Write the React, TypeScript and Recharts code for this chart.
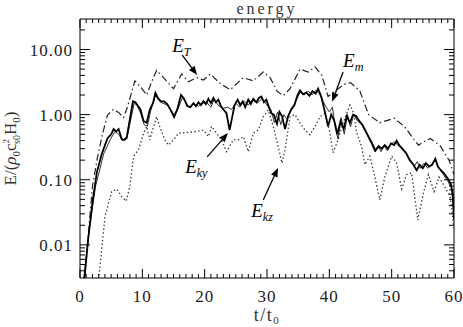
import React from 'react';
import { LineChart, Line, XAxis, YAxis, ReferenceLine, Label } from 'recharts';

// ---- data ----
const tT = [0.6, 1.2, 2.0, 2.8, 3.6, 4.4, 5.3, 6.2, 7.0, 7.6, 8.8, 9.8, 10.7, 11.5, 12.3, 13.5, 15.0, 16.3, 17.4, 18.7, 19.8, 20.9, 22.5, 24.1, 25.0, 26.2, 27.8, 29.4, 30.5, 31.6, 32.6, 33.7, 35.3, 36.6, 37.7, 38.8, 39.8, 41.2, 42.3, 43.4, 44.9, 46.3, 48.1, 50.4, 52.1, 53.3, 54.3, 55.1, 56.2, 57.8, 59.2, 60.0];
const eT = [0.002, 0.01, 0.08, 0.22, 0.5, 0.98, 1.2, 1.08, 0.9, 1.3, 3.3, 2.6, 2.0, 3.2, 4.8, 3.6, 2.5, 4.2, 3.2, 3.7, 3.4, 4.2, 3.0, 2.4, 2.9, 3.7, 3.3, 4.5, 3.7, 2.3, 1.95, 2.5, 5.0, 4.5, 5.4, 4.0, 1.9, 2.4, 2.9, 3.1, 2.3, 1.0, 0.75, 0.88, 0.65, 0.45, 0.34, 0.38, 0.43, 0.33, 0.2, 0.12];

const tKy = [0.3, 0.7, 1.3, 2.0, 2.7, 3.5, 4.4, 5.0, 5.4, 5.8, 6.2, 6.7, 7.1, 7.5, 8.0, 8.5, 8.9, 9.3, 9.7, 10.2, 10.7, 11.2, 11.7, 12.1, 12.5, 13.0, 13.5, 14.0, 14.5, 15.1, 15.6, 16.2, 16.7, 17.2, 17.7, 18.2, 18.6, 19.0, 19.4, 19.8, 20.2, 20.6, 21.0, 21.4, 21.8, 22.2, 22.6, 23.0, 23.5, 24.0, 24.4, 24.8, 25.3, 25.7, 26.1, 26.5, 27.0, 27.4, 27.8, 28.3, 28.7, 29.1, 29.5, 29.9, 30.3, 30.7, 31.1, 31.6, 32.0, 32.4, 32.9, 33.4, 33.9, 34.4, 34.9, 35.3, 35.8, 36.3, 36.8, 37.3, 37.8, 38.2, 38.7, 39.2, 39.8, 40.3, 40.8, 41.3, 41.8, 42.3, 42.8, 43.3, 43.8, 44.3, 44.8, 45.3, 46.0, 46.8, 47.4, 47.9, 48.4, 48.9, 49.4, 49.9, 50.4, 50.8, 51.2, 51.7, 52.3, 52.9, 53.5, 54.0, 54.5, 55.0, 55.5, 56.0, 56.5, 57.0, 57.4, 57.9, 58.4, 59.0, 59.5, 59.8, 60.0];
const eKy = [0.0015, 0.003, 0.012, 0.045, 0.13, 0.25, 0.43, 0.5, 0.6, 0.55, 0.6, 0.42, 0.41, 0.45, 0.85, 1.6, 1.55, 1.35, 1.2, 0.8, 0.75, 1.2, 1.5, 2.15, 1.8, 1.6, 1.6, 1.45, 1.2, 0.92, 1.2, 2.0, 1.75, 1.35, 1.3, 1.5, 1.35, 1.55, 1.4, 1.6, 1.45, 1.75, 1.5, 1.8, 1.55, 1.7, 1.35, 1.2, 1.05, 0.58, 0.9, 1.4, 1.7, 1.4, 1.6, 1.3, 1.7, 1.45, 1.75, 1.55, 1.8, 1.9, 1.55, 1.7, 1.3, 1.05, 1.0, 0.72, 1.1, 0.95, 0.6, 0.95, 1.2, 1.4, 2.0, 2.35, 2.05, 2.2, 1.95, 2.3, 2.1, 2.5, 1.9, 1.2, 0.66, 1.0, 0.8, 0.5, 0.8, 0.6, 0.95, 0.75, 1.0, 0.95, 0.8, 0.7, 0.52, 0.37, 0.28, 0.33, 0.3, 0.34, 0.3, 0.36, 0.34, 0.4, 0.34, 0.3, 0.26, 0.2, 0.17, 0.14, 0.17, 0.15, 0.18, 0.16, 0.17, 0.21, 0.16, 0.14, 0.125, 0.105, 0.085, 0.06, 0.025];

const tM = [0.4, 0.6, 1.4, 2.5, 3.8, 4.9, 5.6, 6.2, 6.8, 7.5, 8.1, 8.7, 9.2, 9.8, 10.3, 10.8, 11.3, 12.1, 12.9, 14.0, 15.0, 15.6, 16.4, 16.9, 17.5, 18.3, 19.0, 19.6, 20.3, 21.0, 21.5, 22.3, 23.0, 23.7, 24.3, 25.0, 25.6, 26.3, 27.0, 27.6, 28.4, 29.2, 30.0, 30.6, 31.2, 31.7, 32.2, 32.7, 33.2, 33.8, 34.4, 35.3, 36.0, 36.6, 37.2, 37.8, 38.4, 39.0, 39.5, 40.0, 40.5, 41.0, 41.4, 41.9, 42.4, 42.9, 43.4, 43.9, 44.5, 45.2, 46.0, 46.8, 47.3, 47.8, 48.3, 48.8, 49.3, 49.8, 50.5, 51.0, 51.6, 52.3, 53.0, 53.6, 54.1, 54.6, 55.2, 55.8, 56.4, 57.0, 57.6, 58.3, 59.0, 59.6, 60.0];
const eM = [0.0018, 0.003, 0.015, 0.08, 0.25, 0.42, 0.55, 0.5, 0.4, 0.42, 0.8, 1.5, 1.4, 1.0, 0.7, 0.66, 1.1, 1.95, 1.55, 1.4, 1.02, 1.15, 1.8, 1.6, 1.3, 1.45, 1.35, 1.5, 1.55, 1.3, 1.7, 1.35, 1.25, 1.3, 1.2, 1.5, 1.3, 1.6, 1.4, 1.7, 1.5, 1.75, 1.4, 1.2, 0.75, 1.1, 0.7, 1.0, 0.85, 1.2, 1.45, 2.2, 2.0, 2.3, 2.0, 2.35, 2.1, 1.6, 1.3, 1.1, 1.3, 0.6, 0.42, 0.9, 0.5, 1.0, 0.65, 1.0, 0.8, 0.7, 0.5, 0.35, 0.27, 0.33, 0.27, 0.33, 0.28, 0.35, 0.38, 0.34, 0.3, 0.25, 0.2, 0.16, 0.19, 0.15, 0.18, 0.15, 0.17, 0.21, 0.15, 0.12, 0.095, 0.075, 0.03];

const tKz = [2.8, 3.0, 4.0, 5.1, 5.9, 6.7, 7.4, 8.0, 8.6, 9.4, 10.2, 10.7, 11.2, 11.8, 12.3, 12.8, 13.6, 14.2, 15.0, 15.8, 17.1, 18.7, 19.8, 20.6, 21.1, 21.9, 22.7, 23.5, 24.6, 25.4, 26.2, 27.0, 27.8, 28.6, 29.4, 30.2, 31.0, 31.8, 32.4, 32.9, 33.7, 34.5, 35.3, 36.1, 36.9, 37.7, 38.5, 39.3, 40.1, 40.6, 41.4, 42.2, 43.3, 43.9, 44.4, 45.2, 45.7, 46.5, 47.3, 48.1, 48.9, 50.0, 50.8, 51.6, 52.4, 53.2, 54.2, 55.1, 55.9, 56.8, 57.6, 58.3, 59.4, 60.0];
const eKz = [0.002, 0.003, 0.027, 0.066, 0.072, 0.055, 0.047, 0.079, 0.23, 0.29, 0.52, 0.66, 0.41, 0.66, 0.93, 0.66, 0.41, 0.34, 0.41, 0.52, 0.53, 0.55, 0.58, 0.46, 0.66, 0.52, 0.41, 0.27, 0.41, 0.41, 0.46, 0.27, 0.52, 0.58, 0.93, 1.18, 0.66, 0.32, 0.18, 0.29, 0.93, 1.0, 0.74, 0.58, 0.49, 0.66, 0.93, 1.05, 0.52, 0.26, 0.41, 0.74, 1.4, 1.05, 0.52, 0.32, 0.17, 0.23, 0.11, 0.049, 0.11, 0.23, 0.18, 0.072, 0.12, 0.127, 0.024, 0.063, 0.12, 0.066, 0.11, 0.085, 0.055, 0.018];

const xMajorTicks = [0, 10, 20, 30, 40, 50, 60];
const xMinorStep = 1;
const yMajorTicks = [0.01, 0.1, 1, 10];
const yTickLabels = ['0.01', '0.10', '1.00', '10.00'];
const yMinorMultipliers = [2, 3, 4, 5, 6, 7, 8, 9];
const yDomain = [0.0031, 29.4];
const xDomain = [0, 60];

// annotations: label, subscript, arrow start (t, E), arrow tip (t, E), text offset
const annotations = [
  { name: 'E', sub: 'T', t1: 16.4, e1: 8.2, t2: 18.8, e2: 4.06, dx: -10, dy: -3 },
  { name: 'E', sub: 'm', t1: 42.2, e1: 4.5, t2: 40.45, e2: 1.57, dx: 0, dy: -5 },
  { name: 'E', sub: 'ky', t1: 20.4, e1: 0.224, t2: 23.74, e2: 0.52, dx: -22, dy: 16 },
  { name: 'E', sub: 'kz', t1: 29.4, e1: 0.049, t2: 31.77, e2: 0.152, dx: -12, dy: 17 },
];

const toPts = (ts: number[], es: number[]) => ts.map((t, i) => ({ t, v: es[i] }));
const dataT = toPts(tT, eT);
const dataKy = toPts(tKy, eKy);
const dataM = toPts(tM, eM);
const dataKz = toPts(tKz, eKz);

const xTicks: number[] = [];
for (let v = xDomain[0]; v <= xDomain[1]; v += xMinorStep) xTicks.push(v);
const yTicks: number[] = [];
[0.001, 0.01, 0.1, 1, 10].forEach((d) => {
  [1, ...yMinorMultipliers].forEach((m) => {
    const v = +(d * m).toPrecision(3);
    if (v >= yDomain[0] && v <= yDomain[1]) yTicks.push(v);
  });
});

const FONT = "'Liberation Serif', 'Times New Roman', serif";
const TXT = { fontFamily: FONT };
const isXMajor = (v: number) => xMajorTicks.includes(v);
const yMajorIndex = (v: number) => yMajorTicks.findIndex((m) => Math.abs(m - v) / m < 1e-6);

const BottomTick = (p: any) => {
  const { x, y, payload } = p;
  const major = isXMajor(payload.value);
  return (
    <g>
      <line x1={x} y1={y} x2={x} y2={y - (major ? 9 : 4)} stroke="#000" strokeWidth={1} />
      {major && (
        <text x={x} y={y + 24} textAnchor="middle" style={TXT} fontSize={17} letterSpacing={1} fill="#222">
          {payload.value}
        </text>
      )}
    </g>
  );
};
const TopTick = (p: any) => {
  const { x, y, payload } = p;
  const major = isXMajor(payload.value);
  return <line x1={x} y1={y} x2={x} y2={y + (major ? 9 : 4)} stroke="#000" strokeWidth={1} />;
};
const LeftTick = (p: any) => {
  const { x, y, payload } = p;
  const idx = yMajorIndex(payload.value);
  const major = idx >= 0;
  return (
    <g>
      <line x1={x} y1={y} x2={x + (major ? 10 : 5)} y2={y} stroke="#000" strokeWidth={1} />
      {major && (
        <text x={x - 7} y={y + 6} textAnchor="end" style={TXT} fontSize={17} letterSpacing={1} fill="#222">
          {yTickLabels[idx]}
        </text>
      )}
    </g>
  );
};
const RightTick = (p: any) => {
  const { x, y, payload } = p;
  const major = yMajorIndex(payload.value) >= 0;
  return <line x1={x} y1={y} x2={x - (major ? 10 : 5)} y2={y} stroke="#000" strokeWidth={1} />;
};

const arrowShape = (a: any) => (p: any) => {
  const { x1, y1, x2, y2 } = p;
  const dx = x2 - x1;
  const dy = y2 - y1;
  const len = Math.sqrt(dx * dx + dy * dy) || 1;
  const ux = dx / len;
  const uy = dy / len;
  const hl = 9;
  const hw = 3.5;
  const bx = x2 - ux * hl;
  const by = y2 - uy * hl;
  const pts = `${x2},${y2} ${bx - uy * hw},${by + ux * hw} ${bx + uy * hw},${by - ux * hw}`;
  return (
    <g>
      <line x1={x1} y1={y1} x2={bx} y2={by} stroke="#000" strokeWidth={1.3} />
      <polygon points={pts} fill="#000" />
      <text x={x1 + a.dx} y={y1 + a.dy} style={TXT} fontStyle="italic" fontSize={19} fill="#000">
        {a.name}
        <tspan fontSize={12} dy={4}>{a.sub}</tspan>
      </text>
    </g>
  );
};

const TitleLabel = (p: any) => {
  const vb = p.viewBox || { x: 80, y: 0, width: 374, height: 19 };
  return (
    <text x={vb.x + vb.width / 2} y={vb.y + 14} textAnchor="middle" style={TXT} fontSize={16} letterSpacing={3} fill="#333">
      energy
    </text>
  );
};
const XTitle = (p: any) => {
  const vb = p.viewBox || { x: 80, y: 278, width: 374, height: 49 };
  return (
    <text x={vb.x + vb.width / 2} y={vb.y + 43} textAnchor="middle" style={TXT} fontSize={18} letterSpacing={1.5} fill="#333">
      t/t<tspan fontSize={11} dy={3}>0</tspan>
    </text>
  );
};
const YTitle = (p: any) => {
  const vb = p.viewBox || { x: 0, y: 19, width: 80, height: 259 };
  const cx = vb.x + 16;
  const cy = vb.y + vb.height / 2;
  return (
    <text x={cx} y={cy} transform={`rotate(-90, ${cx}, ${cy})`} textAnchor="middle" style={TXT} fontSize={17} fill="#333">
      E/(<tspan fontStyle="italic">ρ</tspan>
      <tspan fontSize={11} dy={4}>0</tspan>
      <tspan dy={-4}>c</tspan>
      <tspan fontSize={9} dy={-7}>2</tspan>
      <tspan fontSize={10} dx={-5} dy={11}>s0</tspan>
      <tspan dy={-4}>H</tspan>
      <tspan fontSize={11} dy={4}>0</tspan>
      <tspan dy={-4}>)</tspan>
    </text>
  );
};

export default function App() {
  return (
    <div style={{ position: 'absolute', left: 0, top: 0, width: 463, height: 327, background: '#fff', fontFamily: FONT }}>
      <LineChart width={463} height={327} margin={{ top: 0, right: 0, bottom: 0, left: 0 }} style={{ fontFamily: FONT }}>
        <XAxis
          xAxisId="b"
          dataKey="t"
          type="number"
          domain={xDomain}
          ticks={xTicks}
          interval={0}
          orientation="bottom"
          height={49}
          tickSize={0}
          tickMargin={0}
          tick={BottomTick}
          axisLine={{ stroke: '#000', strokeWidth: 1 }}
          allowDataOverflow
        >
          <Label content={XTitle} />
        </XAxis>
        <XAxis
          xAxisId="top"
          dataKey="t"
          type="number"
          domain={xDomain}
          ticks={xTicks}
          interval={0}
          orientation="top"
          height={19}
          tickSize={0}
          tickMargin={0}
          tick={TopTick}
          axisLine={{ stroke: '#000', strokeWidth: 1 }}
          allowDataOverflow
        >
          <Label content={TitleLabel} />
        </XAxis>
        <YAxis
          yAxisId="l"
          type="number"
          scale="log"
          domain={yDomain}
          ticks={yTicks}
          interval={0}
          orientation="left"
          width={80}
          tickSize={0}
          tickMargin={0}
          tick={LeftTick}
          axisLine={{ stroke: '#000', strokeWidth: 1 }}
          allowDataOverflow
        >
          <Label content={YTitle} />
        </YAxis>
        <YAxis
          yAxisId="r"
          type="number"
          scale="log"
          domain={yDomain}
          ticks={yTicks}
          interval={0}
          orientation="right"
          width={9}
          tickSize={0}
          tickMargin={0}
          tick={RightTick}
          axisLine={{ stroke: '#000', strokeWidth: 1 }}
          allowDataOverflow
        />
        <Line xAxisId="b" yAxisId="l" data={dataKz} dataKey="v" stroke="#333" strokeWidth={1.3} strokeDasharray="1.4 2.4" dot={false} isAnimationActive={false} />
        <Line xAxisId="b" yAxisId="l" data={dataT} dataKey="v" stroke="#222" strokeWidth={1.2} strokeDasharray="7 3 1.5 3" dot={false} isAnimationActive={false} />
        <Line xAxisId="b" yAxisId="l" data={dataM} dataKey="v" stroke="#333" strokeWidth={1} dot={false} isAnimationActive={false} />
        <Line xAxisId="b" yAxisId="l" data={dataKy} dataKey="v" stroke="#000" strokeWidth={1.8} dot={false} isAnimationActive={false} />
        {annotations.map((a) => (
          <ReferenceLine
            key={a.sub}
            xAxisId="b"
            yAxisId="l"
            segment={[{ x: a.t1, y: a.e1 }, { x: a.t2, y: a.e2 }]}
            ifOverflow="visible"
            shape={arrowShape(a)}
          />
        ))}
      </LineChart>
    </div>
  );
}
